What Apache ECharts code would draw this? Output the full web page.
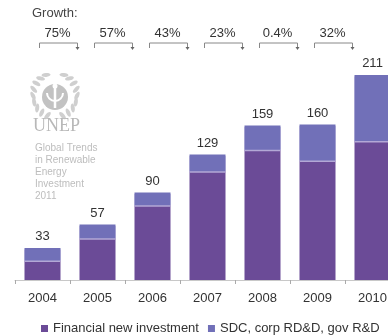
<!DOCTYPE html>
<html><head><meta charset="utf-8">
<script src="https://cdn.jsdelivr.net/npm/echarts@6/dist/echarts.min.js"></script>
<style>html,body{margin:0;padding:0;background:#fff}#c{width:388px;height:335px}</style>
</head><body><div id="c"></div>
<script>
const years = ['2004','2005','2006','2007','2008','2009','2010'];
const financial = [20, 43, 77, 112, 134, 123, 143];
const sdc = [13, 14, 13, 17, 25, 37, 68];
const totals = [33, 57, 90, 129, 159, 160, 211];
const growth = ['75%', '57%', '43%', '23%', '0.4%', '32%'];

const FONT = 'Liberation Sans, Arial, sans-serif';
const chart = echarts.init(document.getElementById('c'), null, {renderer: 'canvas'});

// decorative logo (UNEP emblem)
const logo = [];
const cxL = 55, cyL = 95;
for (let side of [-1, 1]) {
  for (let k = 0; k < 9; k++) {
    const deg = 250 - k * 17;
    const a = deg * Math.PI / 180;
    const ang = side < 0 ? a : Math.PI - a;
    const r = 22;
    const x = cxL + r * Math.cos(ang);
    const y = cyL - r * Math.sin(ang);
    logo.push({type: 'ellipse', shape: {cx: x, cy: y, rx: 4.5, ry: 2},
      rotation: -(ang + Math.PI / 2) + (side < 0 ? 0.5 : -0.5), originX: x, originY: y,
      style: {fill: '#cfcfcf'}});
  }
}
logo.push({type: 'circle', shape: {cx: cxL, cy: cyL + 2, r: 13}, style: {fill: '#c2c2c2'}});
logo.push({type: 'arc', shape: {cx: cxL, cy: cyL - 2, r: 8, startAngle: 0, endAngle: Math.PI}, style: {stroke: '#fff', lineWidth: 2, fill: null}});
logo.push({type: 'line', shape: {x1: cxL, y1: cyL - 8, x2: cxL, y2: cyL + 13}, style: {stroke: '#fff', lineWidth: 2.5}});
logo.push({type: 'circle', shape: {cx: cxL, cy: cyL - 9, r: 2.5}, style: {fill: '#fff'}});
logo.push({type: 'text', left: 33, top: 117, style: {text: 'UNEP', font: '18px "Liberation Serif", "DejaVu Serif", serif', fill: '#b8b8b8'}});
logo.push({type: 'text', left: 35, top: 142, style: {text: 'Global Trends\nin Renewable\nEnergy\nInvestment\n2011', font: '10px ' + FONT, fill: '#bdbdbd', lineHeight: 12}});
logo.push({type: 'text', left: 32, top: 7, style: {text: 'Growth:', font: '13px ' + FONT, fill: '#444'}});

chart.setOption({
  animation: false,
  backgroundColor: '#fff',
  graphic: logo,
  grid: {left: 15, width: 385, top: 37, bottom: 55, containLabel: false, outerBoundsMode: 'none'},
  legend: {
    data: ['Financial new investment', 'SDC, corp RD&D, gov R&D'],
    left: 36, top: 317, itemWidth: 7, itemHeight: 7, itemGap: 9, icon: 'rect',
    textStyle: {fontFamily: FONT, fontSize: 13, color: '#333'}
  },
  xAxis: {
    type: 'category', data: years,
    axisLine: {lineStyle: {color: '#c8c8c8'}},
    axisTick: {show: true, length: 4, lineStyle: {color: '#aaa'}},
    axisLabel: {fontFamily: FONT, fontSize: 13, color: '#333', margin: 12}
  },
  yAxis: {type: 'value', min: 0, max: 250, show: false, splitLine: {show: false}},
  series: [
    {name: 'Financial new investment', type: 'bar', stack: 't', data: financial,
     barWidth: 36, itemStyle: {color: '#6b4b97'}},
    {name: 'SDC, corp RD&D, gov R&D', type: 'bar', stack: 't', data: sdc,
     barWidth: 36,
     itemStyle: {color: '#7170b8', shadowColor: '#b3a8d6', shadowBlur: 0, shadowOffsetY: 1.5},
     label: {show: true, position: 'top', distance: 5, fontFamily: FONT, fontSize: 13, color: '#333',
       formatter: p => String(totals[p.dataIndex])}},
    {type: 'custom', name: 'growth', clip: false, silent: true,
     data: growth.map((g, i) => [i, 0]),
     renderItem: function (params, api) {
       const cx = api.coord([api.value(0), 0])[0];
       const l = cx - 3, r = cx + 35, y = 43;
       return {type: 'group', children: [
         {type: 'polyline', shape: {points: [[l, y + 5], [l, y], [r, y], [r, y + 5]]},
          style: {stroke: '#888', lineWidth: 1, fill: null}},
         {type: 'polygon', shape: {points: [[r - 2, y + 4], [r + 2, y + 4], [r, y + 7]]}, style: {fill: '#666'}},
         {type: 'text', x: cx + 15, y: 33, style: {text: growth[params.dataIndex], font: '13px ' + FONT, fill: '#333', align: 'center', verticalAlign: 'middle'}}
       ]};
     }}
  ]
});
</script></body></html>
